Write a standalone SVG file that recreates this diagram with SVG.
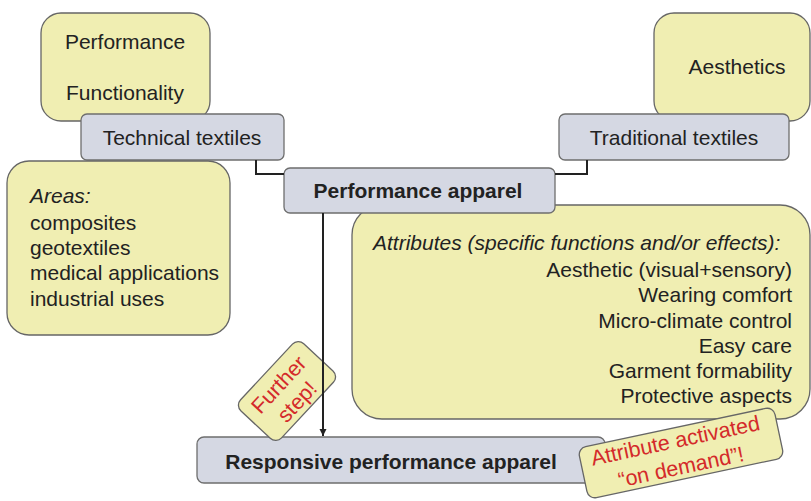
<svg xmlns="http://www.w3.org/2000/svg" width="811" height="501" viewBox="0 0 811 501">
<defs>
<style>
.y{fill:#f0eeb2;stroke:#666;stroke-width:1.3}
.b{fill:#d5d8e3;stroke:#6e6e6e;stroke-width:1.3}
text{font-family:"Liberation Sans",Arial,sans-serif;fill:#222;font-size:21px}
.c{text-anchor:middle}
.r{text-anchor:end}
.bold{font-weight:bold;font-size:21px}
.red{fill:#d42a2a;font-size:21.5px}
.con{fill:none;stroke:#222;stroke-width:2}
</style>
<marker id="ah" markerWidth="8" markerHeight="8" refX="7" refY="4" orient="auto" markerUnits="userSpaceOnUse">
<path d="M0,0.5 L7,4 L0,7.5 z" fill="#222"/>
</marker>
</defs>
<g id="performance-functionality">
<rect class="y" x="41" y="13" width="169" height="108" rx="20"/>
<text class="c" x="125" y="49">Performance</text>
<text class="c" x="125" y="100">Functionality</text>
</g>
<g id="technical-textiles">
<rect class="b" x="81" y="114" width="203" height="46" rx="6"/>
<text class="c" x="182" y="145">Technical textiles</text>
</g>
<g id="aesthetics">
<rect class="y" x="654" y="13" width="156" height="108" rx="20"/>
<text class="c" x="737" y="74">Aesthetics</text>
</g>
<g id="traditional-textiles">
<rect class="b" x="559" y="114" width="230" height="46" rx="6"/>
<text class="c" x="674" y="145">Traditional textiles</text>
</g>
<g id="areas">
<rect class="y" x="7" y="161" width="223" height="174" rx="22"/>
<text x="30" y="203" font-style="italic">Areas:</text>
<text x="30" y="230">composites</text>
<text x="30" y="255">geotextiles</text>
<text x="30" y="280">medical applications</text>
<text x="30" y="306">industrial uses</text>
</g>
<g id="attributes">
<rect class="y" x="352" y="205" width="458" height="214" rx="30"/>
<text x="373" y="250" font-style="italic">Attributes (specific functions and/or effects):</text>
<text class="r" x="792" y="277">Aesthetic (visual+sensory)</text>
<text class="r" x="792" y="302">Wearing comfort</text>
<text class="r" x="792" y="328">Micro-climate control</text>
<text class="r" x="792" y="353">Easy care</text>
<text class="r" x="792" y="378">Garment formability</text>
<text class="r" x="792" y="403">Protective aspects</text>
</g>
<g id="performance-apparel">
<rect class="b" x="284" y="168" width="271" height="45" rx="6"/>
<text class="c bold" x="418" y="198">Performance apparel</text>
</g>
<g id="responsive-performance-apparel">
<rect class="b" x="197" y="437" width="408" height="46" rx="7"/>
<text class="c bold" x="391" y="469">Responsive performance apparel</text>
</g>
<g id="further-step" transform="translate(287,391) rotate(-47)">
<rect class="y" x="-46" y="-28" width="92" height="56" rx="8"/>
<text class="c red" x="-1" y="-3">Further</text>
<text class="c red" x="-1" y="22">step!</text>
</g>
<g id="connectors">
<path class="con" d="M256,160 V174 H284"/>
<path class="con" d="M587,160 V174 H555"/>
<path class="con" d="M323,213 V436" marker-end="url(#ah)"/>
</g>
<g id="attribute-activated" transform="translate(681,453) rotate(-12)">
<rect class="y" x="-100" y="-26" width="200" height="52" rx="8"/>
<text class="c red" x="-3" y="-6">Attribute activated</text>
<text class="c red" x="-3" y="21">“on demand”!</text>
</g>
</svg>
